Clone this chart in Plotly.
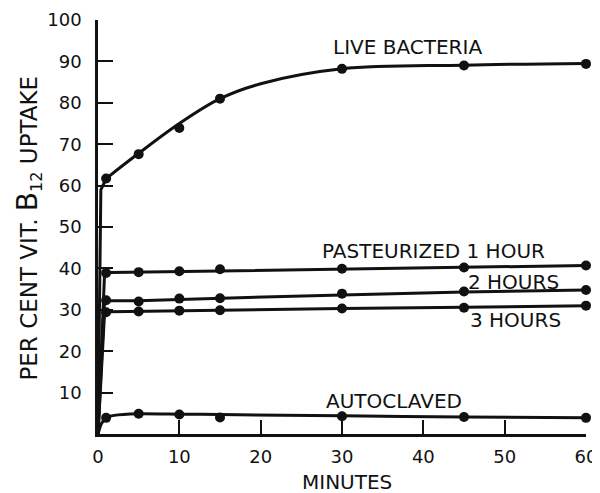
import plotly.graph_objects as go

# ---- data ----
minutes = [1, 5, 10, 15, 30, 45, 60]
live_bacteria = [61.7, 67.6, 73.9, 81.0, 88.2, 89.0, 89.4]
pasteurized_1h = [38.9, 39.1, 39.3, 39.8, 39.9, 40.2, 40.7]
pasteurized_2h = [32.3, 32.0, 32.7, 32.8, 33.9, 34.4, 34.8]
pasteurized_3h = [29.4, 29.6, 29.8, 29.9, 30.3, 30.5, 31.0]
autoclaved = [3.9, 4.9, 4.7, 4.0, 4.3, 4.1, 3.9]

# drawn (smoothed) curves
rise_x_live = [0, 0.35, 1]
rise_live = [0, 59, 61.7]
curve_x_live = [1, 5, 10, 15, 20, 30, 45, 60]
curve_live = [61.7, 67.8, 75.0, 81.0, 84.6, 88.2, 89.1, 89.5]

curve_x_flat = [0, 0.8, 1.5, 5, 10, 15, 30, 45, 60]
curve_1h = [0, 38.5, 39.0, 39.1, 39.3, 39.5, 39.9, 40.3, 40.7]
curve_2h = [0, 32.0, 32.2, 32.2, 32.5, 32.8, 33.6, 34.3, 34.8]
curve_3h = [0, 29.0, 29.5, 29.6, 29.8, 29.9, 30.3, 30.6, 31.0]
curve_x_auto = [0, 0.4, 1, 2, 5, 10, 15, 30, 45, 60]
curve_auto = [0, 2.4, 3.9, 4.5, 4.9, 4.8, 4.7, 4.4, 4.1, 3.9]

x_ticks = [0, 10, 20, 30, 40, 50, 60]
y_ticks = [10, 20, 30, 40, 50, 60, 70, 80, 90, 100]

labels = ["LIVE BACTERIA", "PASTEURIZED 1 HOUR", "2 HOURS", "3 HOURS", "AUTOCLAVED"]

FONT = "DejaVu Sans"
INK = "#111111"

fig = go.Figure()

line = dict(color=INK, width=3)
fig.add_trace(go.Scatter(x=rise_x_live, y=rise_live, mode="lines", line=line, showlegend=False))
fig.add_trace(go.Scatter(x=curve_x_live, y=curve_live, mode="lines",
                         line=dict(color=INK, width=3, shape="spline", smoothing=1.0), showlegend=False))
for cy in (curve_1h, curve_2h, curve_3h):
    fig.add_trace(go.Scatter(x=curve_x_flat, y=cy, mode="lines", line=line, showlegend=False))
fig.add_trace(go.Scatter(x=curve_x_auto, y=curve_auto, mode="lines",
                         line=dict(color=INK, width=3, shape="spline", smoothing=0.6), showlegend=False))

for ys in (live_bacteria, pasteurized_1h, pasteurized_2h, pasteurized_3h, autoclaved):
    fig.add_trace(go.Scatter(x=minutes, y=ys, mode="markers",
                             marker=dict(color=INK, size=10), cliponaxis=False, showlegend=False))

label_pos = [(38.1, 93.6), (41.3, 44.3), (51.1, 36.6), (51.3, 27.6), (36.4, 7.9)]
for txt, (lx, ly) in zip(labels, label_pos):
    fig.add_annotation(x=lx, y=ly, text=txt, showarrow=False,
                       font=dict(family=FONT, size=20, color=INK),
                       xanchor="center", yanchor="middle")

fig.add_annotation(xref="paper", yref="paper", x=0.51, y=-0.116, text="MINUTES",
                   showarrow=False, font=dict(family=FONT, size=20, color=INK),
                   xanchor="center", yanchor="middle")
fig.add_annotation(xref="paper", yref="paper", x=-0.142, y=0.498,
                   text='PER CENT VIT. <span style="font-size:28px">B</span><sub>12</sub> UPTAKE',
                   textangle=-90, showarrow=False, font=dict(family=FONT, size=23, color=INK),
                   xanchor="center", yanchor="middle")

fig.update_xaxes(range=[0, 60], tickvals=x_ticks, ticktext=[str(v) for v in x_ticks],
                 ticks="inside", ticklen=14, tickwidth=2, tickcolor=INK, automargin=False,
                 showline=True, linewidth=2.5, linecolor=INK, showgrid=False, zeroline=False,
                 tickfont=dict(family=FONT, size=18, color=INK), ticklabelstandoff=5)
fig.update_yaxes(range=[0, 100], tickvals=y_ticks, ticktext=[str(v) for v in y_ticks],
                 ticks="inside", ticklen=15, tickwidth=2, tickcolor=INK, automargin=False,
                 showline=True, linewidth=2.5, linecolor=INK, showgrid=False, zeroline=False,
                 tickfont=dict(family=FONT, size=18, color=INK), ticklabelstandoff=10)

# the page body has an 8px margin, so the figure is sized 8px smaller on each axis
fig.update_layout(width=592, height=485, margin=dict(l=90, r=14, t=12, b=59, autoexpand=False),
                  plot_bgcolor="white", paper_bgcolor="white", showlegend=False)

fig.write_html("out.html")
